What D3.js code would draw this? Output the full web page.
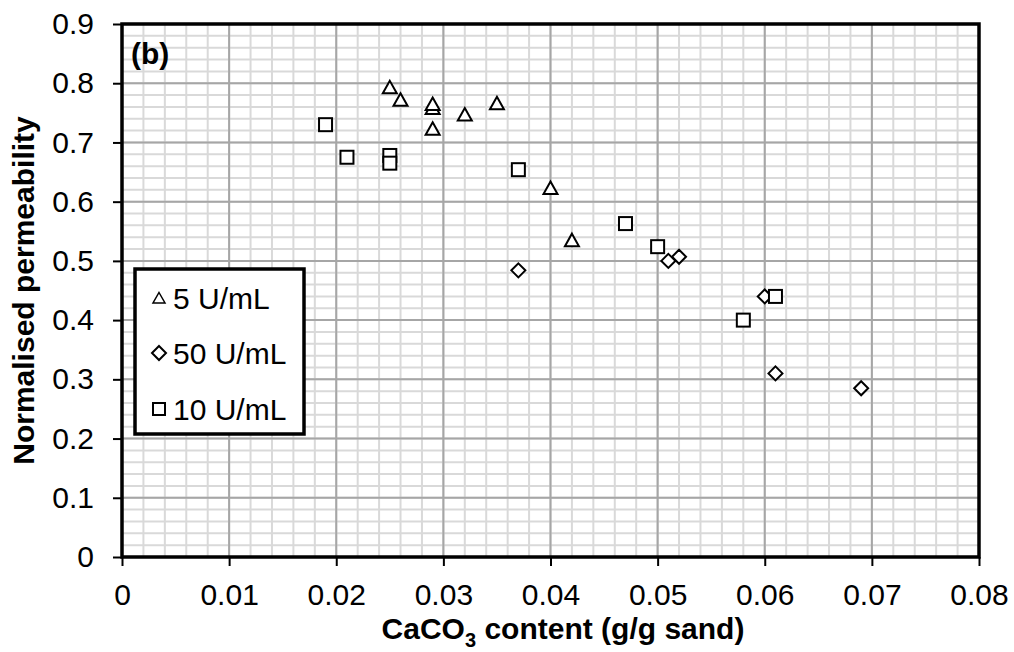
<!DOCTYPE html>
<html>
<head>
<meta charset="utf-8">
<script src="https://cdn.jsdelivr.net/npm/d3@7"></script>
<style>
  body { margin: 0; background: #fff; }
  svg { display: block; font-family: "Liberation Sans", Arial, sans-serif; }
</style>
</head>
<body>
<svg id="chart" width="1014" height="652"></svg>
<script>
// 5 U/mL (triangles)
var tri_x = [0.025, 0.026, 0.029, 0.029, 0.029, 0.032, 0.035, 0.040, 0.042];
var tri_y = [0.793, 0.772, 0.758, 0.765, 0.723, 0.747, 0.766, 0.623, 0.535];
// 50 U/mL (diamonds)
var dia_x = [0.037, 0.051, 0.052, 0.060, 0.061, 0.069];
var dia_y = [0.484, 0.500, 0.507, 0.440, 0.310, 0.285];
// 10 U/mL (squares)
var sq_x = [0.019, 0.021, 0.025, 0.025, 0.037, 0.047, 0.050, 0.058, 0.061];
var sq_y = [0.730, 0.675, 0.678, 0.665, 0.654, 0.563, 0.524, 0.400, 0.440];

var xTicks = [0, 0.01, 0.02, 0.03, 0.04, 0.05, 0.06, 0.07, 0.08];
var yTicks = [0, 0.1, 0.2, 0.3, 0.4, 0.5, 0.6, 0.7, 0.8, 0.9];
var seriesNames = ["5 U/mL", "50 U/mL", "10 U/mL"];

var margin = {top: 24, right: 35, bottom: 95, left: 122},
    width = 1014 - margin.left - margin.right,
    height = 652 - margin.top - margin.bottom;

var svg = d3.select("#chart");
var g = svg.append("g")
  .attr("transform", "translate(" + margin.left + "," + margin.top + ")");

var x = d3.scaleLinear().domain([0, 0.08]).range([0, width]);
var y = d3.scaleLinear().domain([0, 0.9]).range([height, 0]);

// minor grid
var xMinor = d3.range(0, 0.0801, 0.002);
var yMinor = d3.range(0, 0.901, 0.02);
g.append("g").selectAll("line").data(xMinor).enter().append("line")
  .attr("x1", d => x(d)).attr("x2", d => x(d))
  .attr("y1", 0).attr("y2", height)
  .attr("stroke", "#d9d9d9").attr("stroke-width", 2);
g.append("g").selectAll("line").data(yMinor).enter().append("line")
  .attr("x1", 0).attr("x2", width)
  .attr("y1", d => y(d)).attr("y2", d => y(d))
  .attr("stroke", "#d9d9d9").attr("stroke-width", 2);

// major grid
g.append("g").selectAll("line").data(xTicks).enter().append("line")
  .attr("x1", d => x(d)).attr("x2", d => x(d))
  .attr("y1", 0).attr("y2", height)
  .attr("stroke", "#a6a6a6").attr("stroke-width", 2);
g.append("g").selectAll("line").data(yTicks).enter().append("line")
  .attr("x1", 0).attr("x2", width)
  .attr("y1", d => y(d)).attr("y2", d => y(d))
  .attr("stroke", "#a6a6a6").attr("stroke-width", 2);

// frame
g.append("rect")
  .attr("x", 0).attr("y", 0).attr("width", width).attr("height", height)
  .attr("fill", "none").attr("stroke", "#000").attr("stroke-width", 3.5);

// axes
var xAxis = g.append("g")
  .attr("transform", "translate(0," + height + ")")
  .call(d3.axisBottom(x).tickValues(xTicks).tickSize(9).tickPadding(18)
    .tickFormat(d => d === 0 ? "0" : d3.format(".2f")(d)));
var yAxis = g.append("g")
  .call(d3.axisLeft(y).tickValues(yTicks).tickSize(9).tickPadding(19)
    .tickFormat(d => d === 0 ? "0" : d3.format(".1f")(d)));
[xAxis, yAxis].forEach(a => {
  a.select(".domain").remove();
  a.selectAll(".tick line").attr("stroke", "#000").attr("stroke-width", 2);
  a.selectAll(".tick text").attr("font-size", 30).attr("fill", "#000")
    .style("font-family", "Liberation Sans, Arial, sans-serif");
});

// markers
var triangle = "M0,-6.5L7,6L-7,6Z";
var diamond = "M0,-7L7,0L0,7L-7,0Z";

g.append("g").selectAll("path").data(tri_x).enter().append("path")
  .attr("transform", (d, i) => "translate(" + x(d) + "," + y(tri_y[i]) + ")")
  .attr("d", triangle)
  .attr("fill", "#fff").attr("stroke", "#000").attr("stroke-width", 2);

g.append("g").selectAll("path").data(dia_x).enter().append("path")
  .attr("transform", (d, i) => "translate(" + x(d) + "," + y(dia_y[i]) + ")")
  .attr("d", diamond)
  .attr("fill", "#fff").attr("stroke", "#000").attr("stroke-width", 2);

g.append("g").selectAll("rect").data(sq_x).enter().append("rect")
  .attr("x", (d, i) => x(d) - 6.5).attr("y", (d, i) => y(sq_y[i]) - 6.5)
  .attr("width", 13).attr("height", 13)
  .attr("fill", "#fff").attr("stroke", "#000").attr("stroke-width", 2);

// panel label
g.append("text")
  .attr("x", 9).attr("y", 40)
  .attr("font-size", 30).attr("font-weight", "bold")
  .text("(b)");

// legend
var legend = g.append("g").attr("transform", "translate(13,245)");
legend.append("rect")
  .attr("x", 0).attr("y", 0).attr("width", 169).attr("height", 165)
  .attr("fill", "#fff").attr("stroke", "#000").attr("stroke-width", 3.5);
var legY = [29, 84, 140];
legend.append("path")
  .attr("transform", "translate(24," + legY[0] + ")")
  .attr("d", "M0,-5.5L6,5L-6,5Z")
  .attr("fill", "#fff").attr("stroke", "#000").attr("stroke-width", 1.5);
legend.append("path")
  .attr("transform", "translate(24," + legY[1] + ")")
  .attr("d", "M0,-7L7,0L0,7L-7,0Z")
  .attr("fill", "#fff").attr("stroke", "#000").attr("stroke-width", 2);
legend.append("rect")
  .attr("x", 18).attr("y", legY[2] - 6).attr("width", 12).attr("height", 12)
  .attr("fill", "#fff").attr("stroke", "#000").attr("stroke-width", 2);
legend.selectAll("text.lbl").data(seriesNames).enter().append("text")
  .attr("class", "lbl")
  .attr("x", 38).attr("y", (d, i) => legY[i] + 10.5)
  .attr("font-size", 30)
  .text(d => d);

// axis titles
var xt = svg.append("text")
  .attr("x", 563).attr("y", 639)
  .attr("text-anchor", "middle")
  .attr("font-size", 30).attr("font-weight", "bold");
xt.append("tspan").text("CaCO");
xt.append("tspan").attr("font-size", 20).attr("dy", 8).text("3");
xt.append("tspan").attr("dy", -8).text(" content (g/g sand)");

svg.append("text")
  .attr("transform", "translate(34," + (margin.top + height / 2) + ") rotate(-90)")
  .attr("text-anchor", "middle")
  .attr("font-size", 30).attr("font-weight", "bold")
  .text("Normalised permeability");
</script>
</body>
</html>
